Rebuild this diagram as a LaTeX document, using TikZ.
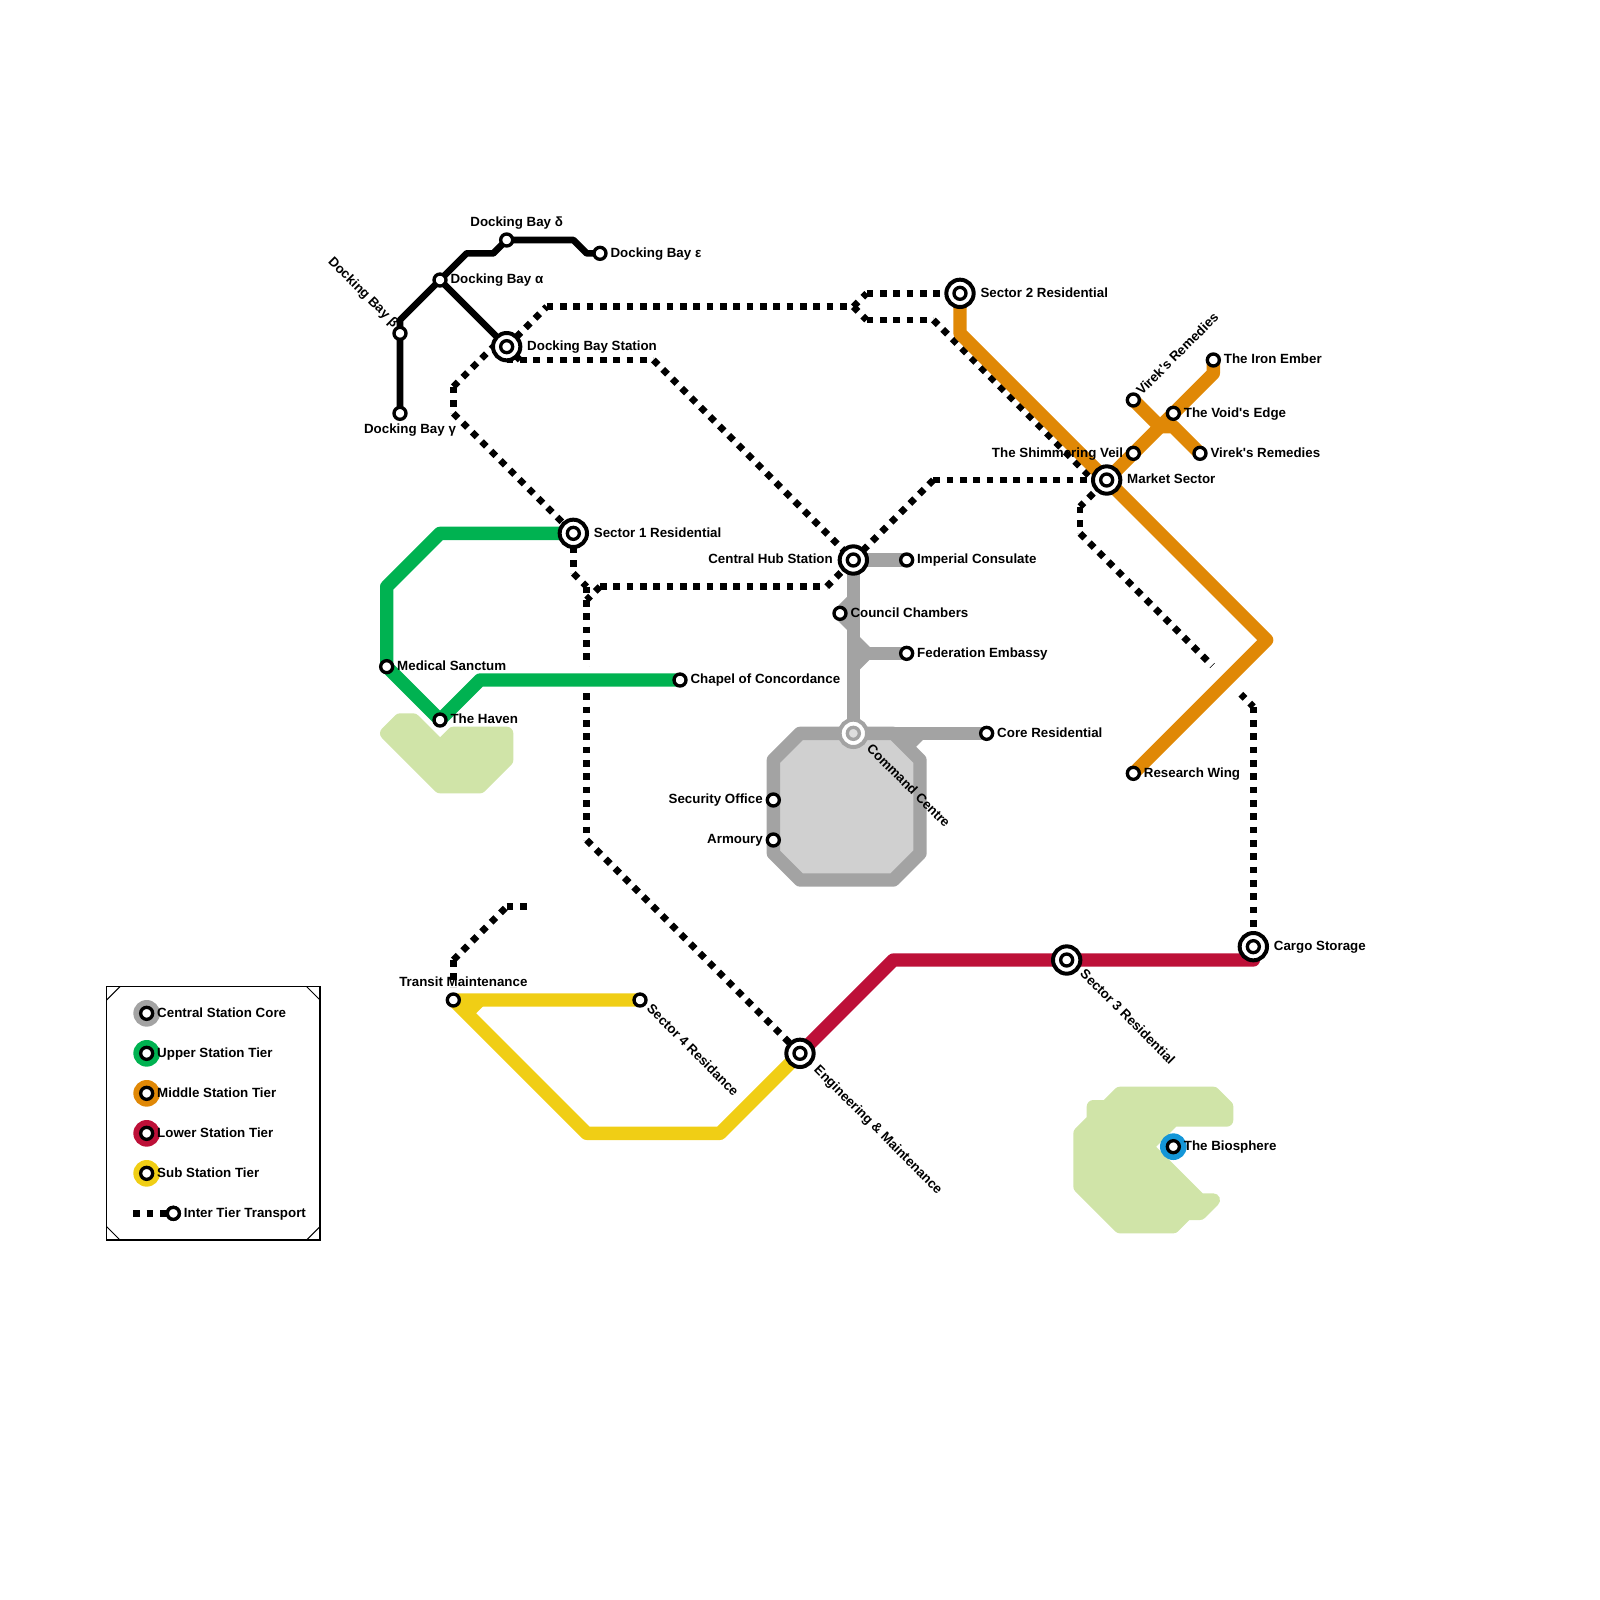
\documentclass[tikz,border=0pt]{standalone}
\usepackage{fontspec}
\usepackage{tikz}
\usetikzlibrary{positioning,backgrounds}
\newfontfamily\mapfont{Liberation Sans}[BoldFont={Liberation Sans Bold}]
\definecolor{coregray}{HTML}{A3A3A3}
\definecolor{corefill}{HTML}{D0D0D0}
\definecolor{uppergreen}{HTML}{00B251}
\definecolor{midorange}{HTML}{E08806}
\definecolor{lowerred}{HTML}{BD1038}
\definecolor{subyellow}{HTML}{F0CE15}
\definecolor{bioblue}{HTML}{1496D8}
\definecolor{parkgreen}{HTML}{D0E4A8}

\begin{document}
\begin{tikzpicture}[
            x=4mm, y=-4mm,
            station/.style={draw=black, fill=white, circle, inner sep=0pt, minimum size=3.6mm, line width=1mm},
            hubring/.style={draw=black, fill=white, circle, inner sep=0pt, minimum size=8.2mm, line width=1.2mm},
            keydisc/.style={circle, inner sep=0pt, minimum size=8mm},
            maplabel/.style={font=\mapfont\bfseries\fontsize{11.38}{13}\selectfont, inner sep=0pt, text height=8.2pt, text depth=1.7pt},
            tierline/.style={line width=4mm, line join=round},
            dockline/.style={draw=black, line width=2mm, line join=round},
            transit/.style={draw=black, line width=2mm, dash pattern=on 2mm off 2mm},
            bridge/.style={draw=white},
            park/.style={draw=parkgreen, fill=parkgreen, line width=4mm, line join=round}
        ]
            \useasboundingbox (0,0) rectangle (120,120);

            % stations
            \node[hubring] (dock) at (38,26) {};
            \node[hubring] (sec1) at (43,40) {};
            \node[hubring] (sec2) at (72,22) {};
            \node[hubring] (hub) at (64,42) {};
            \node[hubring] (mkt) at (83,36) {};
            \node[hubring] (eng) at (60,79) {};
            \node[hubring] (sec3) at (80,72) {};
            \node[hubring] (cargo) at (94,71) {};
            \node[hubring, draw=coregray] (cmd) at (64,55) {};

            \node[station] (dockin) at (dock) {};
            \node[station] (sec1in) at (sec1) {};
            \node[station] (sec2in) at (sec2) {};
            \node[station] (hubin) at (hub) {};
            \node[station] (mktin) at (mkt) {};
            \node[station] (engin) at (eng) {};
            \node[station] (sec3in) at (sec3) {};
            \node[station] (cargoin) at (cargo) {};
            \node[station, draw=coregray, fill=corefill!70!white] (cmdin) at (cmd) {};

            \node[station] (baya) at (33,21) {};
            \node[station] (bayb) at (30,25) {};
            \node[station] (bayc) at (30,31) {};
            \node[station] (bayd) at (38,18) {};
            \node[station] (baye) at (45,19) {};
            \node[station] (med) at (29,50) {};
            \node[station] (haven) at (33,54) {};
            \node[station] (chapel) at (51,51) {};
            \node[station] (cons) at (68,42) {};
            \node[station] (chamb) at (63,46) {};
            \node[station] (fed) at (68,49) {};
            \node[station] (corres) at (74,55) {};
            \node[station] (secoff) at (58,60) {};
            \node[station] (arm) at (58,63) {};
            \node[station] (veil) at (85,34) {};
            \node[station] (virup) at (85,30) {};
            \node[station] (virlo) at (90,34) {};
            \node[station] (void) at (88,31) {};
            \node[station] (iron) at (91,27) {};
            \node[station] (wing) at (85,58) {};
            \node[station] (maint) at (34,75) {};
            \node[station] (sec4) at (48,75) {};
            \node[keydisc, fill=bioblue] (biodisc) at (88,86) {};
            \node[station] (bio) at (88,86) {};

            % labels
            \node[maplabel, right=1.4mm of dock] {Docking Bay Station};
            \node[maplabel, right=1.4mm of sec1] {Sector 1 Residential};
            \node[maplabel, right=1.4mm of sec2] {Sector 2 Residential};
            \node[maplabel, left=1.4mm of hub] {Central Hub Station};
            \node[maplabel, right=1.4mm of mkt] {Market Sector};
            \node[maplabel, right=1.4mm of cargo] {Cargo Storage};
            \node[maplabel, right=0.8mm of baya] {Docking Bay α};
            \node[maplabel, right=0.8mm of baye] {Docking Bay ε};
            \node[maplabel, above=1mm of bayd, xshift=3mm] {Docking Bay δ};
            \node[maplabel, below=0.7mm of bayc, xshift=3mm] {Docking Bay γ};
            \node[maplabel, right=0.8mm of med] {Medical Sanctum};
            \node[maplabel, right=0.8mm of haven] {The Haven};
            \node[maplabel, right=0.8mm of chapel] {Chapel of Concordance};
            \node[maplabel, right=0.8mm of cons] {Imperial Consulate};
            \node[maplabel, right=0.8mm of chamb] {Council Chambers};
            \node[maplabel, right=0.8mm of fed] {Federation Embassy};
            \node[maplabel, right=0.8mm of corres] {Core Residential};
            \node[maplabel, left=0.8mm of secoff] {Security Office};
            \node[maplabel, left=0.8mm of arm] {Armoury};
            \node[maplabel, left=0.7mm of veil] {The Shimmering Veil};
            \node[maplabel, right=0.8mm of virlo] {Virek's Remedies};
            \node[maplabel, right=0.8mm of void] {The Void's Edge};
            \node[maplabel, right=0.8mm of iron] {The Iron Ember};
            \node[maplabel, right=0.8mm of wing] {Research Wing};
            \node[maplabel, above=1mm of maint, xshift=3mm] {Transit Maintenance};
            \node[maplabel, right=0.8mm of bio] {The Biosphere};
            \node[maplabel, rotate=-45, anchor=east] at (29.7,24.4) {Docking Bay β};
            \node[maplabel, rotate=45, anchor=west] at (85.43,29.5) {Virek's Remedies};
            \node[maplabel, rotate=-45, anchor=west] at (65.15,56) {Command Centre};
            \node[maplabel, rotate=-45, anchor=west] at (48.65,75.5) {Sector 4 Residance};
            \node[maplabel, rotate=-45, anchor=west] at (61.2,80.1) {Engineering \& Maintenance};
            \node[maplabel, rotate=-45, anchor=west] at (81.15,72.9) {Sector 3 Residential};

            % legend
            \draw[line width=0.4mm] (8,74) rectangle (24,93);
            \draw[line width=0.3mm] (8,75) -- (9,74);
            \draw[line width=0.3mm] (23,74) -- (24,75);
            \draw[line width=0.3mm] (8,92) -- (9,93);
            \draw[line width=0.3mm] (23,93) -- (24,92);
            \node[keydisc, fill=coregray] (keya) at (11,76) {};
            \node[keydisc, fill=uppergreen] (keyb) at (11,79) {};
            \node[keydisc, fill=midorange] (keyc) at (11,82) {};
            \node[keydisc, fill=lowerred] (keyd) at (11,85) {};
            \node[keydisc, fill=subyellow] (keye) at (11,88) {};
            \node[station] (keyain) at (keya) {};
            \node[station] (keybin) at (keyb) {};
            \node[station] (keycin) at (keyc) {};
            \node[station] (keydin) at (keyd) {};
            \node[station] (keyein) at (keye) {};
            \node[station] (keyf) at (13,91) {};
            \coordinate (keyfl) at (10,91);
            \draw[transit] (keyfl) -- (keyf.center);
            \node[station] (keyfin) at (keyf) {};
            \node[maplabel, right=0.8mm of keyain] {Central Station Core};
            \node[maplabel, right=0.8mm of keybin] {Upper Station Tier};
            \node[maplabel, right=0.8mm of keycin] {Middle Station Tier};
            \node[maplabel, right=0.8mm of keydin] {Lower Station Tier};
            \node[maplabel, right=0.8mm of keyein] {Sub Station Tier};
            \node[maplabel, right=0.8mm of keyfin] {Inter Tier Transport};

            % bends of the transport line
            \coordinate (ttopl) at (41,23);
            \coordinate (ttopr) at (64,23);
            \coordinate (tupp) at (65,22);
            \coordinate (tlow) at (65,24);
            \coordinate (tlowe) at (70,24);
            \coordinate (tmkt) at (82,36);
            \coordinate (tdocka) at (37,26);
            \coordinate (tdockb) at (34,29);
            \coordinate (tdockc) at (34,31);
            \coordinate (tbota) at (38,27);
            \coordinate (tbotb) at (39,27);
            \coordinate (tbotc) at (49,27);
            \coordinate (tseca) at (43,43);
            \coordinate (tsecb) at (44,44);
            \coordinate (tsecc) at (45,44);
            \coordinate (tsecd) at (44,45);
            \coordinate (tsece) at (62,44);
            \coordinate (tsecf) at (44,63);
            \coordinate (thube) at (70,36);
            \coordinate (tmkta) at (82,37);
            \coordinate (tmktb) at (81,38);
            \coordinate (tmktc) at (81,40);
            \coordinate (tcara) at (94,53);
            \coordinate (tmnta) at (34,74);
            \coordinate (tmntb) at (34,72);
            \coordinate (tmntc) at (38,68);
            \coordinate (tmntd) at (39.9,68);

            \begin{scope}[on background layer]
            % parks
            \path[park] (84,82) -- (91,82) -- (92,83) -- (92,84) -- (88,84) -- (86,86) -- (90,90) -- (91,90) -- (90,91) -- (89,91) -- (88,92) -- (84,92) -- (81,89) -- (81,85) -- (82,84) -- (82,83) -- (83,83) -- cycle;
            \path[park] (30,54) -- (31,54) -- (33,56) -- (34,55) -- (38,55) -- (38,57) -- (36,59) -- (33,59) -- (29,55) -- cycle;
            \fill[corefill] (60,55) -- (58,57) -- (58,64) -- (60,66) -- (67,66) -- (69,64) -- (69,57) -- (67,55) -- cycle;

            % transport
            \draw[transit] (dock.center) -- (ttopl);
            \draw[transit] (ttopl) -- (ttopr);
            \draw[transit] (ttopr) -- (tupp);
            \draw[transit] (tupp) -- (sec2.center);
            \draw[transit] (ttopr) -- (tlow);
            \draw[transit] (tlow) -- (tlowe);
            \draw[transit] (tlowe) -- (tmkt);
            \draw[transit] (tdockb) -- (tdocka);
            \draw[transit] (tdocka) -- (dock.center);
            \draw[transit] (tdockb) -- (tdockc);
            \draw[transit] (tdockc) -- (sec1.center);
            \draw[transit] (dock.center) -- (tbotb);
            \draw[transit] (tbota) -- (tbotc);
            \draw[transit] (tbotc) -- (hub.center);
            \draw[transit] (sec1.center) -- (tseca);
            \draw[transit] (tseca) -- (tsecb);
            \draw[transit] (tsecc) -- (tsecd);
            \draw[transit] (tsecb) -- (tsecf);
            \draw[transit] (tsecc) -- (tsece);
            \draw[transit] (tsece) -- (hub.center);
            \draw[transit] (tsecf) -- (eng.center);
            \draw[transit] (hub.center) -- (thube);
            \draw[transit] (thube) -- (mkt.center);
            \draw[transit] (tmkta) -- (tmktb);
            \draw[transit] (tmktb) -- (tmktc);
            \draw[transit] (tmktc) -- (tcara);
            \draw[transit] (tcara) -- (cargo.center);
            \draw[transit] (tmntb) -- (tmnta);
            \draw[transit] (tmntb) -- (tmntc);
            \draw[transit] (tmntc) -- (tmntd);
            \draw[bridge, line width=8mm] (43,51) -- (45,51);
            \draw[bridge, line width=12mm] (91,52) -- (93,50);

            % docking branch
            \draw[dockline] (baye.center) -- (44,19) -- (43,18) -- (bayd.center) -- (37,19) -- (35,19) -- (baya.center) -- (30,24) -- (bayb.center) -- (bayc.center);
            \draw[dockline] (baya.center) -- (dock.center);

            % tiers
            \draw[tierline, uppergreen] (sec1.center) -- (33,40) -- (29,44) -- (med.center) -- (haven.center) -- (36,51) -- (chapel.center);
            \draw[tierline, midorange] (sec2.center) -- (72,25) -- (mkt.center) -- (95,48) -- (wing.center);
            \draw[tierline, midorange] (mkt.center) -- (veil.center) -- (void.center) -- (91,28) -- (iron.center);
            \draw[tierline, midorange] (virup.center) -- (87,32) -- (88,32) -- (virlo.center);
            \draw[tierline, lowerred] (eng.center) -- (67,72) -- (sec3.center) -- (94,72) -- (cargo.center);
            \draw[tierline, subyellow] (sec4.center) -- (maint.center) -- (44,85) -- (54,85) -- (eng.center);
            \draw[tierline, subyellow] (36,75) -- (35,76);
            \draw[tierline, coregray] (cons.center) -- (hub.center) -- (cmd.center) -- (corres.center);
            \draw[tierline, coregray] (64,45) -- (chamb.center) -- (64,47);
            \draw[tierline, coregray] (64,48) -- (65,49) -- (64,50);
            \draw[tierline, coregray] (65,49) -- (fed.center);
            \draw[tierline, coregray] (cmd.center) -- (60,55) -- (58,57) -- (secoff.center) -- (arm.center) -- (58,64) -- (60,66) -- (67,66) -- (69,64) -- (69,57) -- (67,55) -- (cmd.center);
            \draw[tierline, coregray] (69,55) -- (68,56);
            \end{scope}
        \end{tikzpicture}
\end{document}
